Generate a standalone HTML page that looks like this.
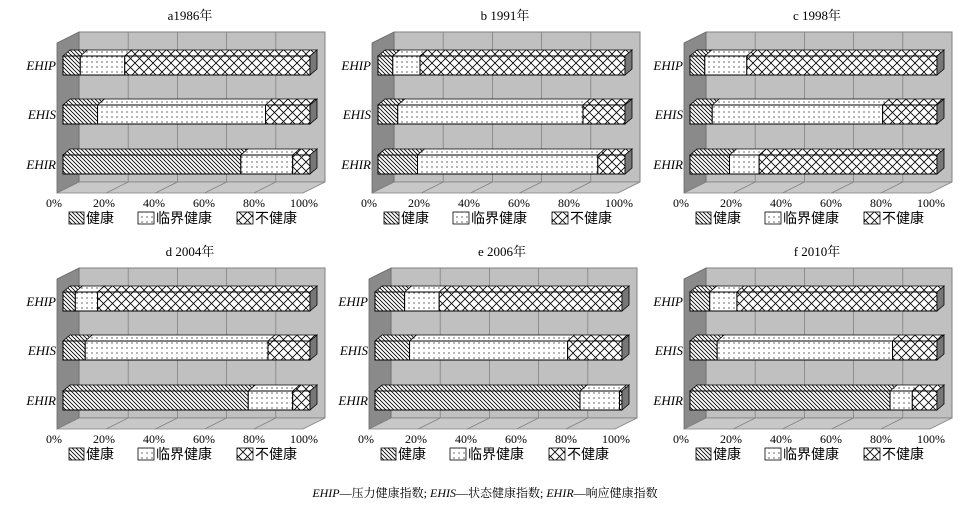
<!DOCTYPE html>
<html><head><meta charset="utf-8"><style>
body{margin:0;background:#fff;}
svg{display:block;font-family:"Liberation Serif","Noto Serif CJK SC",serif;}
</style></head><body>
<svg id="s" width="970" height="505" viewBox="0 0 970 505" xmlns="http://www.w3.org/2000/svg">
<defs>
<pattern id="ph" patternUnits="userSpaceOnUse" width="4" height="4"><rect width="4" height="4" fill="#fff"/><path d="M-1,-1 L5,5 M-1,3 L1,5 M3,-1 L5,1" stroke="#000" stroke-width="0.8"/></pattern>
<pattern id="pd" patternUnits="userSpaceOnUse" width="5" height="5"><rect width="5" height="5" fill="#fff"/><circle cx="2" cy="2" r="0.6" fill="#000"/></pattern>
<pattern id="pu" patternUnits="userSpaceOnUse" width="9" height="9"><rect width="9" height="9" fill="#fff"/><path d="M0,0 L9,9 M9,0 L0,9" stroke="#000" stroke-width="0.8"/></pattern>
</defs>
<g id="panels"></g>
<text x="485" y="497" font-size="12" text-anchor="middle" font-family="Liberation Serif, Noto Serif CJK SC, serif"><tspan font-style="italic">EHIP</tspan>—压力健康指数; <tspan font-style="italic">EHIS</tspan>—状态健康指数; <tspan font-style="italic">EHIR</tspan>—响应健康指数</text>
</svg>
<script>
var data=[
["a1986年",[[7,25],[14,82],[72,93]]],
["b 1991年",[[6,17],[8,83],[16,89]]],
["c 1998年",[[6,23],[9,78],[16,28]]],
["d 2004年",[[5,14],[9,83],[75,93]]],
["e 2006年",[[12,26],[14,78],[83,99]]],
["f 2010年",[[8,19],[11,82],[81,90]]]];
var offs=[[0,0],[315,0],[627,0],[0,236],[312,236],[627,236]];
var h='';
for(var p=0;p<6;p++){
 var dx=offs[p][0],dy=offs[p][1];
 h+='<g transform="translate('+dx+','+dy+')">';
 h+='<text x="190" y="20" font-size="13" text-anchor="middle">'+data[p][0]+'</text>';
 h+='<polygon points="79,32 325,32 325,182 79,182" fill="#c0c0c0" stroke="#808080" stroke-width="1"/>';
 h+='<polygon points="57,43 79,32 79,182 57,193" fill="#8a8a8a" stroke="#666" stroke-width="0.8"/>';
 h+='<polygon points="57,193 79,182 325,182 303,193" fill="#c8c8c8" stroke="#808080" stroke-width="0.8"/>';
 for(var i=1;i<5;i++){var bx=79+i*49.2,fx=57+i*49.2;
  h+='<line x1="'+bx+'" y1="32" x2="'+bx+'" y2="182" stroke="#808080" stroke-width="0.8"/>';
  h+='<line x1="'+fx+'" y1="193" x2="'+bx+'" y2="182" stroke="#808080" stroke-width="0.8"/>';}
 var labs=['EHIP','EHIS','EHIR'],ys=[56,105,155];
 for(var r=0;r<3;r++){
  var y=ys[r],v=data[p][1][r],x0=63,W=247;
  var xs=[x0,x0+W*v[0]/100,x0+W*v[1]/100,x0+W];
  var pats=['ph','pd','pu'];
  for(var k=0;k<3;k++){
   h+='<polygon points="'+xs[k]+','+y+' '+(xs[k]+7)+','+(y-6)+' '+(xs[k+1]+7)+','+(y-6)+' '+xs[k+1]+','+y+'" fill="url(#'+pats[k]+')" stroke="#000" stroke-width="0.8"/>';
   h+='<rect x="'+xs[k]+'" y="'+y+'" width="'+(xs[k+1]-xs[k])+'" height="19" fill="url(#'+pats[k]+')" stroke="#000" stroke-width="1"/>';
  }
  h+='<polygon points="'+xs[3]+','+y+' '+(xs[3]+7)+','+(y-6)+' '+(xs[3]+7)+','+(y+13)+' '+xs[3]+','+(y+19)+'" fill="#777" stroke="#000" stroke-width="0.8"/>';
  h+='<text x="56" y="'+(y+14)+'" font-size="13" font-style="italic" text-anchor="end">'+labs[r]+'</text>';
 }
 for(var i=0;i<6;i++){h+='<text x="'+(54+i*50)+'" y="207" font-size="12" text-anchor="middle">'+(i*20)+'%</text>';}
 h+='<rect x="69" y="212" width="15" height="12" fill="url(#ph)" stroke="#000" stroke-width="0.8"/><text x="86" y="223" font-size="14" font-family="Noto Sans CJK SC,sans-serif">健康</text>';
 h+='<rect x="138" y="212" width="16" height="12" fill="url(#pd)" stroke="#000" stroke-width="0.8"/><text x="156" y="223" font-size="14" font-family="Noto Sans CJK SC,sans-serif">临界健康</text>';
 h+='<rect x="237" y="212" width="16" height="12" fill="url(#pu)" stroke="#000" stroke-width="0.8"/><text x="255" y="223" font-size="14" font-family="Noto Sans CJK SC,sans-serif">不健康</text>';
 h+='</g>';
}
document.getElementById('panels').innerHTML=h;
</script>
</body></html>
